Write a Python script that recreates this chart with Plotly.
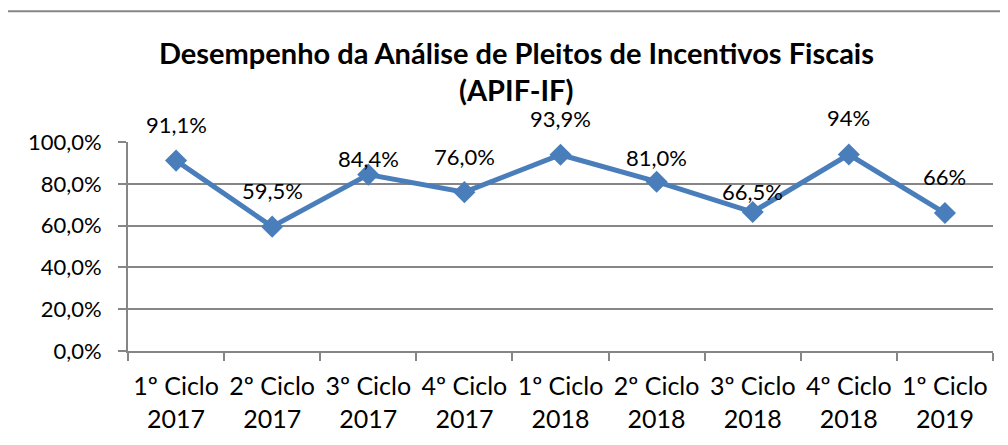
import plotly.graph_objects as go

categories = ["1º Ciclo<br>2017", "2º Ciclo<br>2017", "3º Ciclo<br>2017", "4º Ciclo<br>2017",
              "1º Ciclo<br>2018", "2º Ciclo<br>2018", "3º Ciclo<br>2018", "4º Ciclo<br>2018",
              "1º Ciclo<br>2019"]
values = [91.1, 59.5, 84.4, 76.0, 93.9, 81.0, 66.5, 94.0, 66.0]
labels = ["91,1%", "59,5%", "84,4%", "76,0%", "93,9%", "81,0%", "66,5%", "94%", "66%"]
tick_vals = [0, 20, 40, 60, 80, 100]
tick_text = ["0,0%", "20,0%", "40,0%", "60,0%", "80,0%", "100,0%"]

# label vertical offsets (px) above each point
label_dy = [36, 36, 16, 36, 36, 24, 21, 37, 37]

FONT = "Lato"
OFF = 8  # page body margin
W, H = 1008 - OFF, 445 - OFF
L, R, T, B = 128 - OFF, 15, 142 - OFF, 92
pw = W - L - R
ph = H - T - B
BOTTOM = 353  # page px of plot bottom


def py(page_y):
    return (BOTTOM - page_y) / ph


def px(page_x):
    return (page_x - 128) / pw


fig = go.Figure()
fig.add_trace(go.Scatter(
    x=categories, y=values, mode="lines+markers",
    line=dict(color="#4A7EBB", width=5),
    marker=dict(symbol="diamond", size=17, color="#4A7EBB"),
    hoverinfo="skip", showlegend=False,
))

for c, v, t, dy in zip(categories, values, labels, label_dy):
    fig.add_annotation(x=c, y=v, text=t, showarrow=False, yshift=dy,
                       font=dict(family=FONT, size=22, color="#000000"))

# title
fig.add_annotation(xref="paper", yref="paper", x=px(516), y=py(52), yanchor="middle",
                   text="<b>Desempenho da Análise de Pleitos de Incentivos Fiscais</b>",
                   showarrow=False, font=dict(family=FONT, size=29, color="#000000"))
fig.add_annotation(xref="paper", yref="paper", x=px(516), y=py(89), yanchor="middle",
                   text="<b>(APIF-IF)</b>",
                   showarrow=False, font=dict(family=FONT, size=29, color="#000000"))

# outer chart frame
fig.add_shape(type="rect", xref="paper", yref="paper",
              x0=px(6), x1=px(1001), y0=py(470), y1=py(10),
              line=dict(color="#868686", width=2), fillcolor="rgba(0,0,0,0)", layer="below")

fig.update_layout(
    width=W, height=H,
    margin=dict(l=L, r=R, t=T, b=B),
    paper_bgcolor="white", plot_bgcolor="white",
    font=dict(family=FONT, size=22, color="#000000"),
    xaxis=dict(
        type="category", tickson="boundaries", ticks="outside", ticklen=8,
        tickcolor="#868686", tickwidth=2, showline=True, linecolor="#868686", linewidth=2,
        showgrid=False, tickfont=dict(family=FONT, size=25, color="#000000"),
        ticklabelstandoff=12,
        range=[-0.5, len(categories) - 0.5],
    ),
    yaxis=dict(
        range=[0, 100], tickvals=tick_vals, ticktext=tick_text,
        ticks="outside", ticklen=8, tickcolor="#868686", tickwidth=2,
        showline=True, linecolor="#868686", linewidth=2,
        showgrid=True, gridcolor="#868686", gridwidth=2, zeroline=False,
        tickfont=dict(family=FONT, size=22, color="#000000"),
        ticklabelstandoff=12,
    ),
)

fig.write_html("out.html")
